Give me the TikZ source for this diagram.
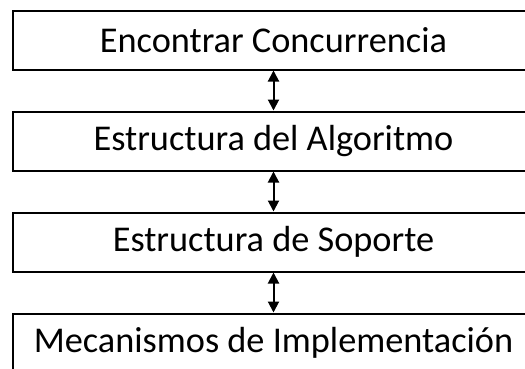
\documentclass[tikz,border=0pt]{standalone}
\usepackage{fontspec}
\setmainfont{Carlito}
\usetikzlibrary{positioning,arrows.meta}
\tikzset{
  layer/.style = {
    draw, line width=2pt,
    minimum width=522pt, minimum height=59pt,
    inner sep=0pt,
    font=\fontsize{36.3}{40}\selectfont
  }
}
\tikzset{>={Triangle[width=11pt,length=11pt]}}

\begin{document}
\begin{tikzpicture}[x=1pt,y=1pt,node distance=40pt]
  \useasboundingbox (0,0) rectangle (525,-368);
  % layers
  \node[layer] (concurrency) at (273.5,-40) {Encontrar Concurrencia};
  \node[layer,below=of concurrency] (algorithm) {Estructura del Algoritmo};
  \node[layer,below=of algorithm] (support) {Estructura de Soporte};
  \node[layer,below=of support] (mechanisms) {Mecanismos de Implementación};
  % arrows
  \draw[<->,line width=2pt] (concurrency) -- (algorithm);
  \draw[<->,line width=2pt] (algorithm) -- (support);
  \draw[<->,line width=2pt] (support) -- (mechanisms);
\end{tikzpicture}
\end{document}
